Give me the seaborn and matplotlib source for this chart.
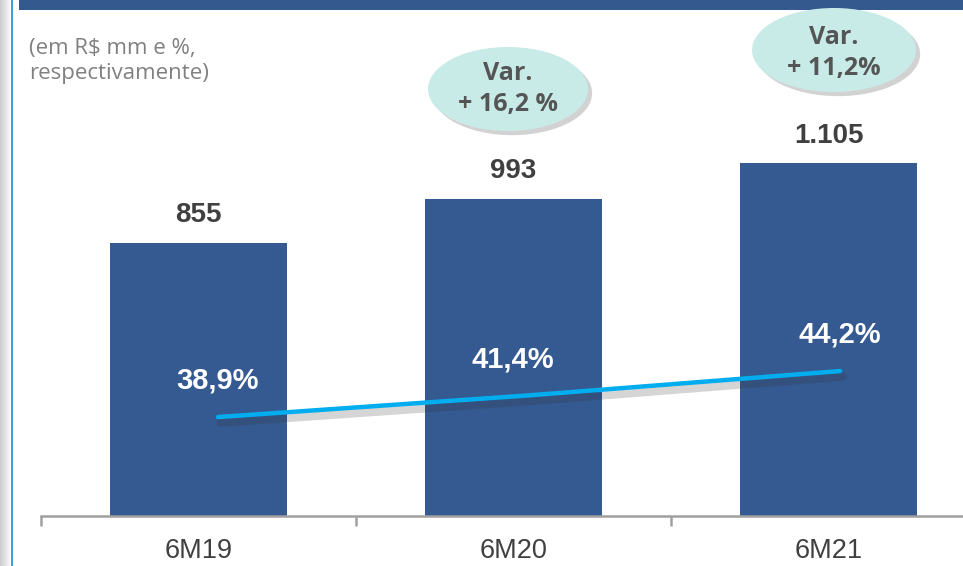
import numpy as np
import matplotlib
matplotlib.use("Agg")
import matplotlib.pyplot as plt
import matplotlib.patheffects as pe
from matplotlib.patches import Ellipse, Rectangle
from matplotlib import font_manager
import seaborn as sns

# ---- data ----
categories = ["6M19", "6M20", "6M21"]
revenue = [855, 993, 1105]
revenue_labels = ["855", "993", "1.105"]
margin = [38.9, 41.4, 44.2]
margin_labels = ["38,9%", "41,4%", "44,2%"]
var_labels = ["Var.\n+ 16,2 %", "Var.\n+ 11,2%"]
subtitle = "(em R$ mm e %,\nrespectivamente)"

sns.set_theme(style="white")
names = {f.name for f in font_manager.fontManager.ttflist}
narrow = "Liberation Sans Narrow" if "Liberation Sans Narrow" in names else "Liberation Sans"
plt.rcParams["font.family"] = ["Open Sans", "DejaVu Sans"]

W, H = 963, 566
fig = plt.figure(figsize=(W / 100, H / 100), dpi=100)
fig.patch.set_facecolor("white")

def fx(px):
    return px / W

def fy(py):
    return 1 - py / H

BAR = "#355a91"
GREY_TXT = "#404040"

# main axes
ax = fig.add_axes([fx(41), fy(516), 945 / W, 506 / H])
sns.barplot(x=categories, y=revenue, color=BAR, width=0.56, ax=ax,
            saturation=1, edgecolor="none")
ax.set_xlim(-0.5, 2.5)
ax.set_ylim(0, 1586)
for s in ["top", "right", "left"]:
    ax.spines[s].set_visible(False)
ax.spines["bottom"].set_color("#a0a0a0")
ax.spines["bottom"].set_linewidth(1.8)
ax.set_yticks([])
ax.set_xticks(range(len(categories)))
ax.set_xticklabels(categories, fontfamily=narrow, fontsize=19.5, color=GREY_TXT)
ax.tick_params(axis="x", which="major", length=0, pad=16)
ax.set_xticks([-0.5, 0.5, 1.5, 2.5], minor=True)
ax.tick_params(axis="x", which="minor", length=7, width=1.8, color="#a0a0a0", bottom=True)
ax.set_xlabel("")
ax.set_ylabel("")
ax.patch.set_alpha(0)

for i, (v, lab) in enumerate(zip(revenue, revenue_labels)):
    ax.annotate(lab, xy=(i, v), xytext=(0, 20), textcoords="offset points",
                ha="center", va="center", fontfamily=narrow, fontweight="bold",
                fontsize=20, color=GREY_TXT)

# line axes (overlay)
ax2 = fig.add_axes([fx(41), fy(516), 945 / W, 506 / H])
ax2.patch.set_alpha(0)
sns.lineplot(x=[0, 1, 2], y=margin, ax=ax2, color="#00aeef", linewidth=3.2)
line = ax2.lines[0]
line.set_solid_capstyle("round")
line.set_path_effects([pe.SimpleLineShadow(offset=(2, -4), shadow_color="#303030", alpha=0.2, linewidth=6),
                       pe.Normal()])
ax2.set_xlim(-0.569, 2.469)
ax2.set_ylim(27.5, 85.8)
ax2.axis("off")
dx = [0, -12, 0]
for i, (m, lab) in enumerate(zip(margin, margin_labels)):
    ax2.annotate(lab, xy=(i, m), xytext=(dx[i], 26), textcoords="offset points",
                 ha="center", va="center", fontfamily=narrow, fontweight="bold",
                 fontsize=21, color="white")

# decorations in figure pixel space
deco = fig.add_axes([0, 0, 1, 1], zorder=5)
deco.set_xlim(0, W)
deco.set_ylim(H, 0)
deco.axis("off")
deco.patch.set_alpha(0)

# left gradient strip
grad = np.linspace(0.80, 0.97, 50).reshape(1, -1)
deco.imshow(grad, extent=(0, 10, H, 0), cmap="gray", vmin=0, vmax=1, aspect="auto")
deco.plot([12, 12], [0, H], color="#1a8fd0", linewidth=1.2)
deco.add_patch(Rectangle((19, 0), W - 19, 10, color="#34598f", linewidth=0))
deco.set_xlim(0, W)
deco.set_ylim(H, 0)

deco.text(29, 61, subtitle, ha="left", va="center", fontsize=16,
          color="#808080", linespacing=1.3, family=["Open Sans", "DejaVu Sans"])

ell_specs = [((508, 89), 160, 84, (508, 89)), ((834, 50), 164, 84, (834, 53))]
for (c, w, h, tc), lab in zip(ell_specs, var_labels):
    e = Ellipse(c, w, h, facecolor="#c9ebe8", edgecolor="none",
                path_effects=[pe.SimplePatchShadow(offset=(3, -3), shadow_rgbFace="#808080", alpha=0.35),
                              pe.Normal()])
    deco.add_patch(e)
    deco.text(tc[0], tc[1], lab, ha="center", va="center", fontsize=18,
              fontweight="bold", color="#555555", linespacing=1.32,
              family=["Open Sans", "DejaVu Sans"])

fig.savefig("out.png", dpi=100)
